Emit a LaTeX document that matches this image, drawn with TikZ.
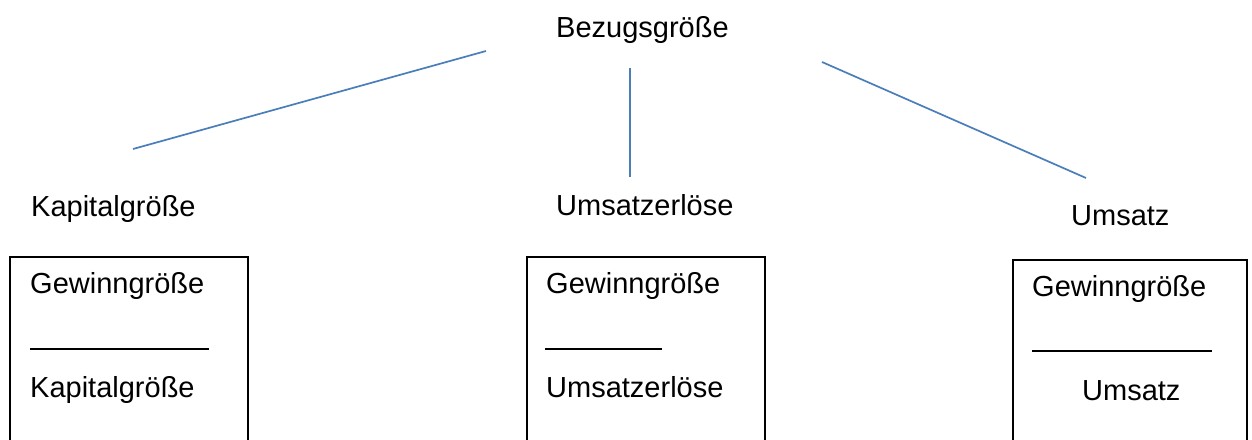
\documentclass[tikz,border=0pt]{standalone}
\usepackage{fontspec}
\setmainfont{Liberation Sans}
\begin{document}
\begin{tikzpicture}[x=1pt,y=-1pt,
  lbl/.style={anchor=base west,inner sep=0pt,font=\fontsize{29}{34}\selectfont},
  conn/.style={draw=blueline,line width=1.7pt},
  frame/.style={draw=black,line width=1.8pt},
  frac/.style={draw=black,line width=1.8pt}]
\definecolor{blueline}{HTML}{4A7EBB}
\useasboundingbox[fill=white] (0,0) rectangle (1252,439);
% labels
\node[lbl] (bez) at (556,37) {Bezugsgröße};
\node[lbl] (kap) at (31,216) {Kapitalgröße};
\node[lbl] (ume) at (556,215) {Umsatzerlöse};
\node[lbl] (ums) at (1071,225) {Umsatz};
% connector end points
\coordinate (b1) at (486,51);
\coordinate (k1) at (133,149);
\coordinate (b2) at (630,68);
\coordinate (u1) at (630,177);
\coordinate (b3) at (822,62);
\coordinate (s1) at (1086,178);
\path[conn] (b1) -- (k1);
\path[conn] (b2) -- (u1);
\path[conn] (b3) -- (s1);
% boxes (open at bottom, continuing past the picture edge)
\path[frame] (10,445) -- (10,257) -- (248,257) -- (248,445);
\path[frame] (527,445) -- (527,257) -- (765,257) -- (765,445);
\path[frame] (1013,445) -- (1013,260) -- (1247,260) -- (1247,445);
% box contents
\node[lbl] (g1) at (30,293) {Gewinngröße};
\node[lbl] (n1) at (30,397) {Kapitalgröße};
\coordinate (l1a) at (30,349); \coordinate (l1b) at (209,349);
\path[frac] (l1a) -- (l1b);
\node[lbl] (g2) at (546,293) {Gewinngröße};
\node[lbl] (n2) at (546,397) {Umsatzerlöse};
\coordinate (l2a) at (545,349); \coordinate (l2b) at (662,349);
\path[frac] (l2a) -- (l2b);
\node[lbl] (g3) at (1032,296) {Gewinngröße};
\node[lbl] (n3) at (1082,400) {Umsatz};
\coordinate (l3a) at (1032,351); \coordinate (l3b) at (1212,351);
\path[frac] (l3a) -- (l3b);
\end{tikzpicture}
\end{document}
